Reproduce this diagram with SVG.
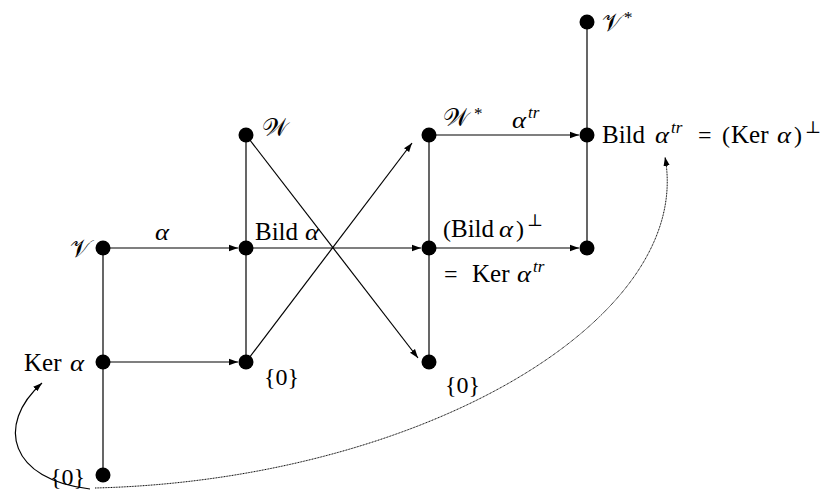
<svg xmlns="http://www.w3.org/2000/svg" width="830" height="491" viewBox="0 0 830 491">
<defs>
<marker id="ah" viewBox="0 0 10 10" refX="10" refY="5" markerWidth="9" markerHeight="9" markerUnits="userSpaceOnUse" orient="auto">
<path d="M0,1.5 L10,5 L0,8.5 z" fill="#000"/>
</marker>
</defs>
<style>
.e{stroke:#000;stroke-width:1.2;fill:none}
.a{stroke:#000;stroke-width:1.2;fill:none;marker-end:url(#ah)}
.d{stroke:#000;stroke-width:1;fill:none;stroke-dasharray:1 0.6;marker-end:url(#ah)}
text{font-family:"Liberation Serif","DejaVu Serif",serif;font-size:24px;fill:#000}
.w{font-size:25px}
.s{font-family:"DejaVu Serif","DejaVu Sans",serif;font-size:25px}
.i{font-style:italic}
.sup{font-size:17px}
circle{fill:#000}
</style>
<g id="connectors">
<line class="e" x1="103" y1="248" x2="103" y2="475"/>
<line class="e" x1="246" y1="135" x2="246" y2="362"/>
<line class="e" x1="429" y1="135" x2="429" y2="362"/>
<line class="e" x1="587" y1="22" x2="587" y2="248"/>
<line class="a" x1="103" y1="248" x2="238" y2="248"/>
<line class="a" x1="103" y1="362" x2="238" y2="362"/>
<line class="a" x1="246" y1="248" x2="421" y2="248"/>
<line class="a" x1="429" y1="248" x2="579" y2="248"/>
<line class="a" x1="429" y1="135" x2="579" y2="135"/>
<line class="a" x1="246" y1="362" x2="412" y2="143"/>
<line class="a" x1="246" y1="135" x2="418" y2="358"/>
<path class="d" d="M95,488 C420,480 695,320 665,157"/>
<path class="e" d="M90,489 C10,480 -5,425 42,383" style="marker-end:url(#ah)"/>
</g>
<g id="n-V"><circle cx="103" cy="248" r="7.5"/><text class="s" x="70" y="257">𝒱</text></g>
<g id="n-BildA"><circle cx="246" cy="248" r="7.5"/>
<text class="w" x="255" y="240">Bild</text>
<text class="i" x="305" y="240" textLength="14" lengthAdjust="spacingAndGlyphs">α</text></g>
<g id="n-W"><circle cx="246" cy="135" r="7.5"/><text class="s" x="262" y="136">𝒲</text></g>
<g id="n-KerA"><circle cx="103" cy="362" r="7.5"/>
<text class="w" x="24" y="371">Ker</text>
<text class="i" x="70" y="371" textLength="14" lengthAdjust="spacingAndGlyphs">α</text></g>
<g id="n-0a"><circle cx="103" cy="475" r="7.5"/><text x="50" y="485">{0}</text></g>
<g id="n-0b"><circle cx="246" cy="362" r="7.5"/><text x="264" y="385">{0}</text></g>
<g id="n-Wstar"><circle cx="429" cy="135" r="7.5"/><text class="s" x="443" y="126">𝒲</text><text class="sup" x="474" y="119">*</text></g>
<g id="n-BildAperp"><circle cx="429" cy="248" r="7.5"/>
<text x="443" y="237">(</text>
<text class="w" x="451" y="237">Bild</text>
<text class="i" x="499" y="237" textLength="14" lengthAdjust="spacingAndGlyphs">α</text>
<text x="516" y="237">)</text>
<text class="sup" x="527" y="226">⊥</text>
<text x="444" y="282">=</text>
<text class="w" x="472" y="282">Ker</text>
<text class="i" x="517" y="282" textLength="14" lengthAdjust="spacingAndGlyphs">α</text>
<text class="sup i" x="533" y="272">tr</text></g>
<g id="n-0c"><circle cx="429" cy="362" r="7.5"/><text x="445" y="393">{0}</text></g>
<g id="n-Vstar"><circle cx="587" cy="22" r="7.5"/><text class="s" x="602" y="31">𝒱</text><text class="sup" x="624" y="23">*</text></g>
<g id="n-BildAtr"><circle cx="587" cy="135" r="7.5"/>
<text class="w" x="602" y="143">Bild</text>
<text class="i" x="655" y="143" textLength="14" lengthAdjust="spacingAndGlyphs">α</text>
<text class="sup i" x="671" y="133">tr</text>
<text x="698" y="143">=</text>
<text x="722" y="143">(</text>
<text class="w" x="731" y="143">Ker</text>
<text class="i" x="777" y="143" textLength="14" lengthAdjust="spacingAndGlyphs">α</text>
<text x="794" y="143">)</text>
<text class="sup" x="805" y="133">⊥</text></g>
<g id="n-right"><circle cx="587" cy="248" r="7.5"/></g>
<g id="labels">
<text class="i" x="155" y="240" textLength="14" lengthAdjust="spacingAndGlyphs">α</text>
<text class="i" x="512" y="128" textLength="14" lengthAdjust="spacingAndGlyphs">α</text>
<text class="sup i" x="528" y="118">tr</text>
</g>
</svg>
